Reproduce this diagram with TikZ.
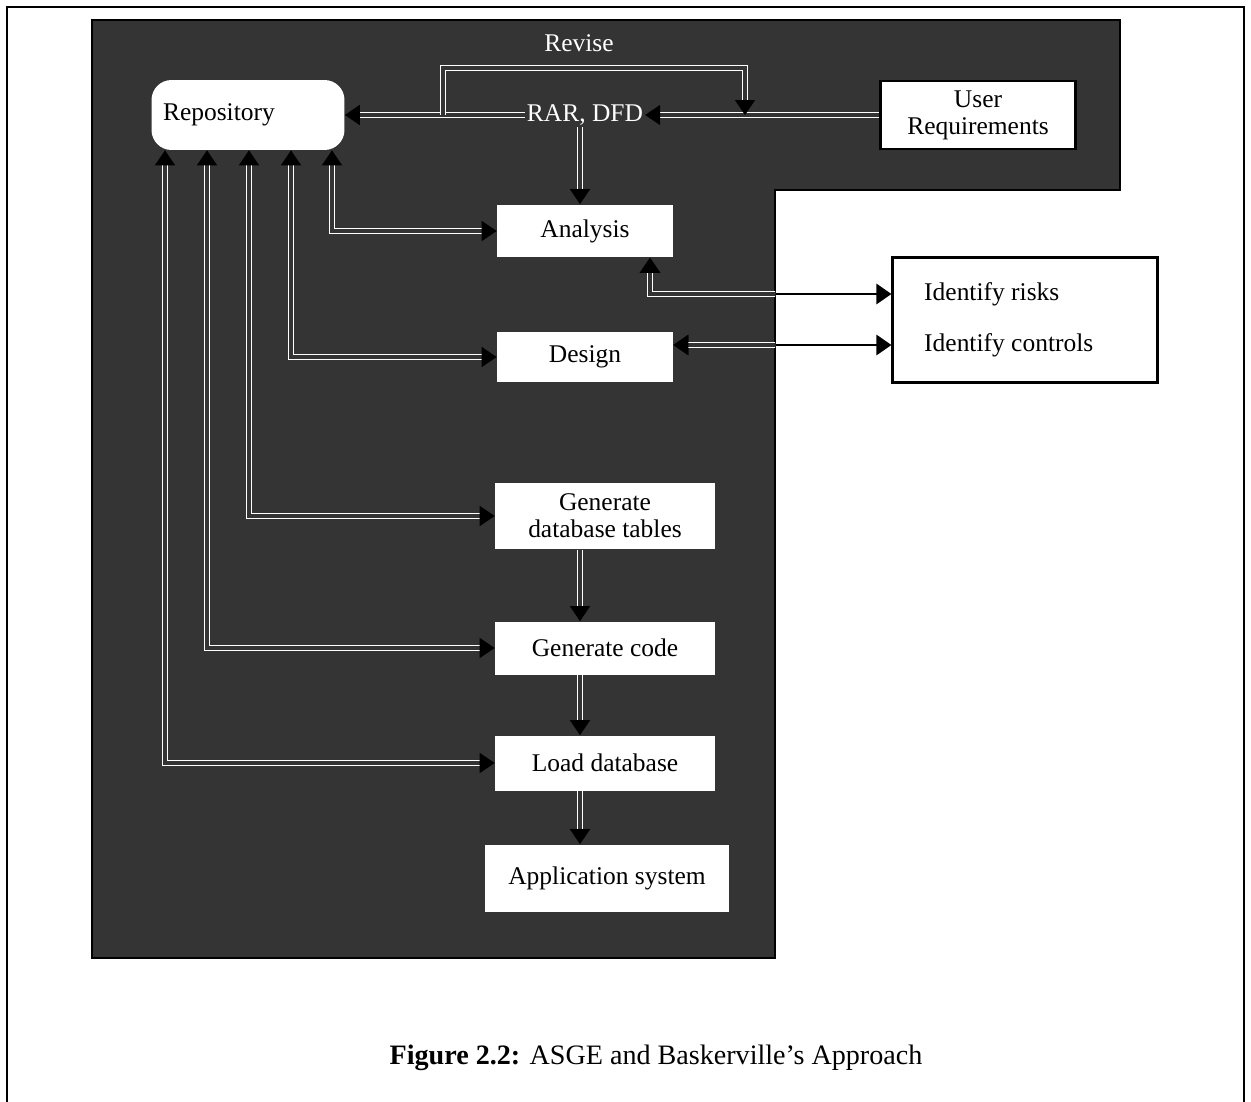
\documentclass[tikz,border=0pt]{standalone}
\usepackage{fontspec}
\setmainfont{Liberation Serif}
\usetikzlibrary{arrows.meta}
\usepackage{xcolor}
\definecolor{scan}{RGB}{52,52,52}
\newcommand{\diagfont}{\fontsize{14.5}{15.5}\selectfont}

\begin{document}
\begin{tikzpicture}[
  x=0.02cm, y=-0.02cm,
  stage/.style={rectangle, fill=white, font=\diagfont, align=center, inner sep=2pt},
  link/.style={-{Triangle[length=0.3cm, width=0.4cm, black]}, draw=white, double=scan, line width=0.8pt, double distance=2.2pt},
  twoway/.style={{Triangle[length=0.3cm, width=0.4cm, black]}-{Triangle[length=0.3cm, width=0.4cm, black]}, draw=white, double=scan, line width=0.8pt, double distance=2.2pt},
  plain/.style={{Triangle[length=0.3cm, width=0.4cm]}-{Triangle[length=0.3cm, width=0.4cm]}, draw=black, line width=1.6pt}
]
\useasboundingbox (0,0) rectangle (1251,1102);
\draw[line width=1pt] (7,1102) -- (7,7) -- (1244,7) -- (1244,1102);

% shaded background
\filldraw[fill=scan, draw=black, line width=1.2pt] (92,20) -- (1120,20) -- (1120,190) -- (775,190) -- (775,958) -- (92,958) -- cycle;

\node[stage, rounded corners=0.4cm, minimum width=3.86cm, minimum height=1.4cm, text width=3.4cm, align=left] (repo) at (248,115) {Repository};
\node[stage, draw=black, line width=1.5pt, minimum width=3.9cm, minimum height=1.36cm] (ureq) at (978,115) {User\\Requirements};
\node[font=\diagfont, text=white] (revise) at (579,43) {Revise};
\node[font=\diagfont, text=white, inner sep=1pt] (dfd) at (585,115) {RAR, DFD};
\node[stage, minimum width=3.52cm, minimum height=1.06cm] (ana) at (585,231) {Analysis};
\node[stage, minimum width=3.52cm, minimum height=1.0cm] (des) at (585,357) {Design};
\node[stage, minimum width=4.4cm, minimum height=1.34cm] (gdb) at (605,516) {Generate\\database tables};
\node[stage, minimum width=4.4cm, minimum height=1.06cm] (gcode) at (605,648) {Generate code};
\node[stage, minimum width=4.4cm, minimum height=1.1cm] (load) at (605,763) {Load database};
\node[stage, minimum width=4.9cm, minimum height=1.34cm] (app) at (607,878) {Application system};
\node[stage, draw=black, line width=1.2pt, minimum width=5.3cm, minimum height=2.5cm] (ident) at (1025,320) {};
\node[font=\diagfont, anchor=west] (risks) at (918,294) {Identify risks};
\node[font=\diagfont, anchor=west] (controls) at (918,345) {Identify controls};
\node (caption) at (656,1058) {\fontsize{16}{18}\selectfont\textbf{Figure 2.2:} ASGE and Baskerville’s Approach};

\coordinate (revfrom) at (443,115);
\coordinate (revto) at (745,115);

% top row
\draw[link] (ureq.west) -- (dfd.east);
\draw[link] (dfd.west) -- (repo.east);
\draw[link] (revfrom) -- ++(0,-47) -| (revto);
\draw[link] (580,0 |- dfd.south) -- (580,0 |- ana.north);

% repository taps
\draw[twoway] (332,0 |- repo.south) |- (ana.west);
\draw[twoway] (291,0 |- repo.south) |- (des.west);
\draw[twoway] (249,0 |- repo.south) |- (gdb.west);
\draw[twoway] (207,0 |- repo.south) |- (gcode.west);
\draw[twoway] (165,0 |- repo.south) |- (load.west);

% main chain
\draw[link] (580,0 |- gdb.south) -- (580,0 |- gcode.north);
\draw[link] (580,0 |- gcode.south) -- (580,0 |- load.north);
\draw[link] (580,0 |- load.south) -- (580,0 |- app.north);

% risks and controls
\draw[plain] (650,0 |- ana.south) |- (ident.west |- risks);
\draw[plain] (des.east |- controls) -- (ident.west |- controls);
\begin{scope}
\clip (92,20) -- (1120,20) -- (1120,190) -- (775,190) -- (775,958) -- (92,958) -- cycle;
\draw[twoway] (650,0 |- ana.south) |- (ident.west |- risks);
\draw[twoway] (des.east |- controls) -- (ident.west |- controls);
\end{scope}
\end{tikzpicture}
\end{document}
